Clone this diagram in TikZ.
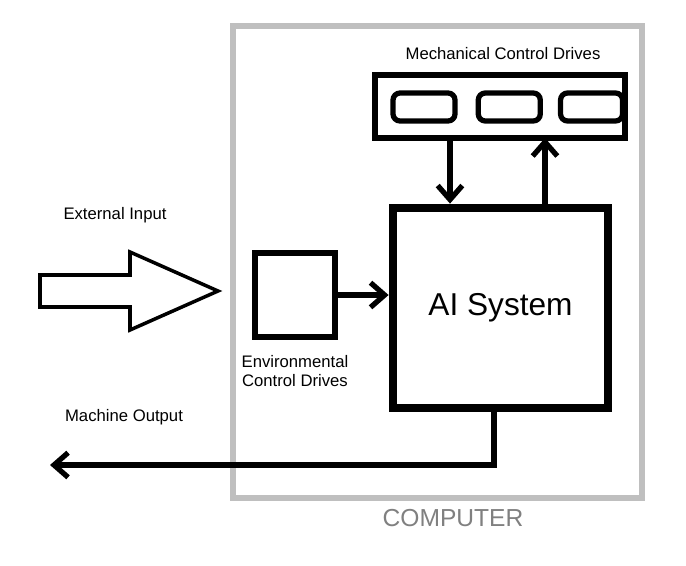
\documentclass[tikz,border=0pt]{standalone}
\usepackage{fontspec}
\setmainfont{Liberation Sans}
\usetikzlibrary{arrows.meta,positioning}
\begin{document}
\begin{tikzpicture}[x=0.02cm,y=-0.02cm,>={Straight Barb[length=8pt,width=14pt]},line width=3pt]
 \tikzset{
 	drive box/.style={rectangle,draw,rounded corners=4pt,minimum width=62*0.02cm,minimum height=28*0.02cm,inner sep=0},
 	label text/.style={font=\fontsize{9.5}{11}\selectfont,align=center}
 }
 \useasboundingbox (0,0) rectangle (686,565);

 % computer frame
 \draw[gray!50,line width=3pt] (233,26) rectangle (642,498);
 \node[text=gray,font=\fontsize{14}{16}\selectfont] (comp) at (453,518) {COMPUTER};

 % mechanical control drives
 \draw (375,75) rectangle (625,138);
 \coordinate (mcdd) at (450,138);
 \coordinate (mcdu) at (545,138);
 \node[label text] (mcdl) at (503,54) {Mechanical Control Drives};
 \node[drive box] (d1) at (424,107) {};
 \node[drive box] (d2) [right=18*0.02cm of d1] {};
 \node[drive box] (d3) [right=15*0.02cm of d2] {};

 % ai system
 \node[draw,line width=5pt,minimum width=215*0.02cm,minimum height=200*0.02cm,inner sep=0,
       font=\fontsize{18}{20}\selectfont] (ai) at (500.5,308) {AI System};

 % environmental control drives
 \node[draw,minimum width=80*0.02cm,minimum height=84*0.02cm,inner sep=0] (env) at (295,295) {};
 \node[label text] (envl) [below=4pt of env] {Environmental\\Control Drives};

 % external input
 \draw[line width=2pt] (40,275) -- (130,275) -- (130,252) -- (218,291) -- (130,330)
   -- (130,307) -- (40,307) -- cycle;
 \node[label text] (ext) at (115,215) {External Input};
 \node[label text] (out) at (124,417) {Machine Output};
 \coordinate (outend) at (50,465);

 \draw[->] (mcdd) -- (mcdd |- ai.north);
 \draw[->] (mcdu |- ai.north) -- (mcdu);
 \draw[->] (env.east) -- (ai.west |- env.east);
 \draw[->] (ai.south -| 494,0) |- (outend);
 \end{tikzpicture}
\end{document}
